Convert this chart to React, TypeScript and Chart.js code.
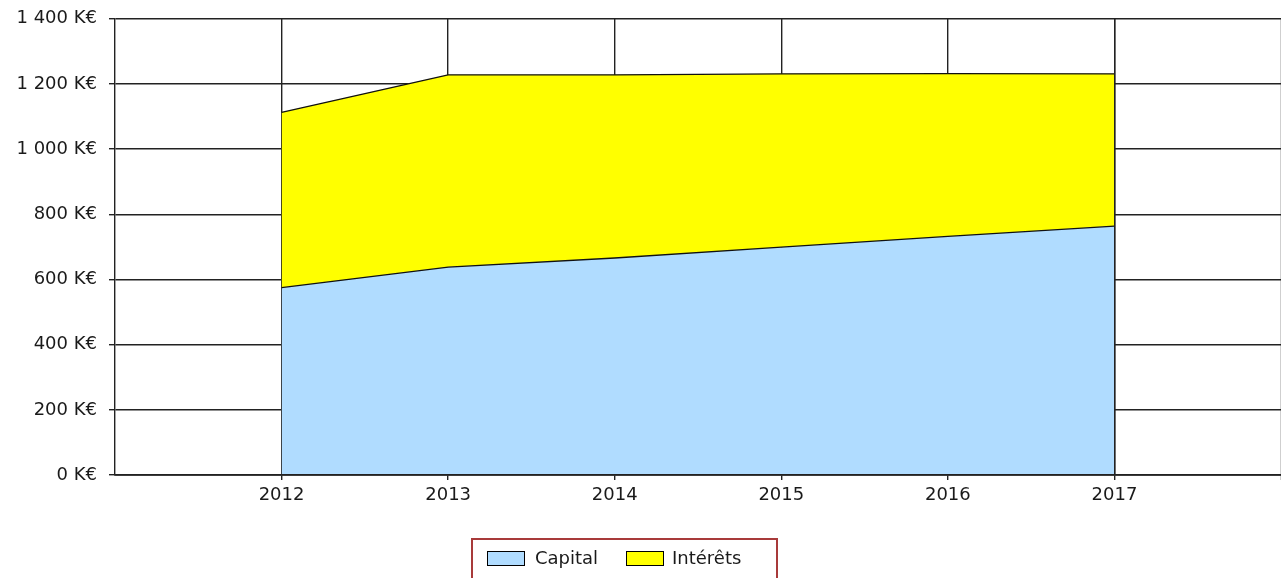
import React, { useEffect, useRef } from "react";
import { Chart, registerables } from "chart.js";

Chart.register(...registerables);

const years = [2012, 2013, 2014, 2015, 2016, 2017];
const capital = [575, 638, 666, 699, 732, 764];
const interets = [538, 590, 562, 532, 500, 467];
const seriesNames = ["Capital", "Intérêts"];
const seriesColors = ["#b0dcff", "#ffff00"];
const yTicksMax = 1400;
const yStep = 200;

const FONT = "'DejaVu Sans', Verdana, sans-serif";
const LINE = "#222";
const LW = 1.4;

function fmt(v: number) {
  return String(v).replace(/\B(?=(\d{3})+(?!\d))/g, " ") + " K€";
}

function align(p: number, w: number) {
  return Math.round(p - w / 2) + w / 2;
}

export default function App() {
  const ref = useRef<HTMLCanvasElement | null>(null);

  useEffect(() => {
    if (!ref.current) return;
    const overlay = {
      id: "overlay",
      afterDatasetsDraw(chart: any) {
        const { ctx, chartArea, scales } = chart;
        ctx.save();
        ctx.strokeStyle = LINE;
        ctx.lineWidth = LW;
        ctx.beginPath();
        const yb = align(chartArea.bottom, LW);
        ctx.moveTo(chartArea.left, yb);
        ctx.lineTo(chartArea.right, yb);
        const xr = align(scales.x.getPixelForValue(years[years.length - 1]), LW);
        ctx.moveTo(xr, chartArea.top);
        ctx.lineTo(xr, chartArea.bottom);
        ctx.stroke();
        ctx.restore();
      },
    };
    const xGridColor = (c: any) => {
      const v = c.tick ? Number(c.tick.value) : NaN;
      if (years.includes(v)) return LINE;
      if (v === years[years.length - 1] + 1) return "#cfcfcf";
      return "rgba(0,0,0,0)";
    };
    const chart = new Chart(ref.current, {
      type: "line",
      data: {
        datasets: [
          {
            label: seriesNames[0],
            data: years.map((x, i) => ({ x, y: capital[i] })),
            fill: "origin",
            backgroundColor: seriesColors[0],
            borderColor: "#111",
            borderWidth: 1.3,
            pointRadius: 0,
            tension: 0,
          },
          {
            label: seriesNames[1],
            data: years.map((x, i) => ({ x, y: interets[i] })),
            fill: "-1",
            backgroundColor: seriesColors[1],
            borderColor: "#111",
            borderWidth: 1.3,
            pointRadius: 0,
            tension: 0,
          },
        ],
      },
      options: {
        animation: false,
        responsive: false,
        devicePixelRatio: 1,
        layout: { padding: { left: 0, top: 18, right: 1, bottom: 0 } },
        plugins: { legend: { display: false }, tooltip: { enabled: false } },
        scales: {
          x: {
            type: "linear",
            min: years[0] - 1,
            max: years[years.length - 1] + 1,
            afterFit: (s: any) => {
              s.height = 103;
            },
            ticks: {
              stepSize: 1,
              autoSkip: false,
              maxRotation: 0,
              padding: 5,
              color: "#1a1a1a",
              font: { family: FONT, size: 18 },
              callback: (v: any) =>
                years.includes(Number(v)) ? String(v) : "",
            },
            grid: { color: xGridColor, tickLength: 5, lineWidth: LW },
            border: { display: true, color: LINE, width: LW },
          },
          y: {
            stacked: true,
            min: 0,
            max: yTicksMax,
            afterFit: (s: any) => {
              s.width = 115;
            },
            ticks: {
              stepSize: yStep,
              padding: 12,
              color: "#1a1a1a",
              font: { family: FONT, size: 18 },
              callback: (v: any) => fmt(Number(v)),
            },
            grid: { color: LINE, tickLength: 6, lineWidth: LW },
            border: { display: true, color: LINE, width: LW },
          },
        },
      },
      plugins: [overlay],
    });
    return () => chart.destroy();
  }, []);

  const legendText: React.CSSProperties = {
    position: "absolute",
    top: 547,
    fontFamily: FONT,
    fontSize: 18,
    color: "#1a1a1a",
    lineHeight: "22px",
    whiteSpace: "nowrap",
  };
  const swatch = (left: number, color: string): React.CSSProperties => ({
    position: "absolute",
    left,
    top: 551,
    width: 36,
    height: 13,
    background: color,
    border: "1px solid #000",
  });

  return (
    <div
      style={{
        position: "fixed",
        left: 0,
        top: 0,
        width: 1281,
        height: 578,
        overflow: "hidden",
        background: "#fff",
      }}
    >
      <canvas
        ref={ref}
        width={1286}
        height={582}
        style={{ display: "block", position: "absolute", left: 0, top: -4 }}
      />
      <div
        style={{
          position: "absolute",
          left: 471,
          top: 538,
          width: 303,
          height: 60,
          border: "2px solid #a83a3a",
        }}
      />
      <div style={swatch(487, seriesColors[0])} />
      <div style={{ ...legendText, left: 535 }}>{seriesNames[0]}</div>
      <div style={swatch(626, seriesColors[1])} />
      <div style={{ ...legendText, left: 672 }}>{seriesNames[1]}</div>
    </div>
  );
}
